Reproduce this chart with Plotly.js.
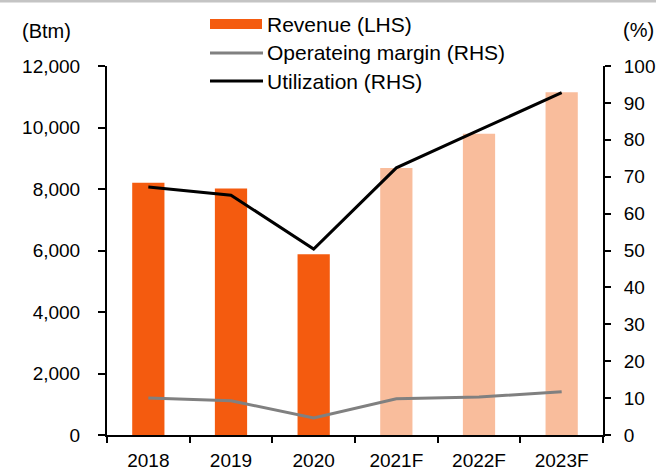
<!DOCTYPE html>
<html><head><meta charset="utf-8">
<script src="https://cdn.plot.ly/plotly-3.0.1.min.js"></script>
<style>body{margin:0;padding:0;background:#fff}#c{width:656px;height:472px}</style>
</head><body><div id="c"></div>
<script>
const categories = ['2018','2019','2020','2021F','2022F','2023F'];
const revenue = [8200, 8020, 5880, 8680, 9800, 11150];
const opMargin = [10.0, 9.3, 4.6, 9.8, 10.3, 11.7];
const utilization = [67.2, 65.0, 50.4, 72.4, 82.6, 92.8];
const barColors = ['#F45B0F','#F45B0F','#F45B0F','#F9BD9C','#F9BD9C','#F9BD9C'];
const leftTicks = [0,2000,4000,6000,8000,10000,12000];
const leftTickText = ['0','2,000','4,000','6,000','8,000','10,000','12,000'];
const rightTicks = [0,10,20,30,40,50,60,70,80,90,100];
const legendNames = ['Revenue (LHS)','Operateing margin (RHS)','Utilization (RHS)'];

const fam = '"Liberation Sans", Arial, sans-serif';
const tickFont = {family:fam, size:19, color:'#000'};
const legFont = {family:fam, size:21, color:'#000'};

const traces = [
  {type:'bar', x:categories, y:revenue, name:legendNames[0], marker:{color:barColors, line:{width:0}}, yaxis:'y'},
  {type:'scatter', mode:'lines', x:categories, y:opMargin, name:legendNames[1], line:{color:'#808080', width:3}, yaxis:'y2'},
  {type:'scatter', mode:'lines', x:categories, y:utilization, name:legendNames[2], line:{color:'#000000', width:3}, yaxis:'y2'}
];

// paper coords helpers (plot area: x 107..603, y 66..435)
const px = v => (v - 107) / 496;
const py = v => (435 - v) / 369;

const layout = {
  width:656, height:472,
  margin:{l:107, r:53, t:66, b:37},
  paper_bgcolor:'#fff', plot_bgcolor:'#fff',
  font:tickFont,
  bargap:0.61,
  showlegend:false,
  xaxis:{type:'category', showline:true, linecolor:'#000', linewidth:2, ticks:'outside', tickson:'boundaries', ticklen:6, tickwidth:2, tickcolor:'#000', showgrid:false, zeroline:false, tickfont:tickFont, ticklabelstandoff:7},
  yaxis:{range:[0,12000], tickvals:leftTicks, ticktext:leftTickText, showline:true, linecolor:'#000', linewidth:2, ticks:'outside', ticklen:7, tickwidth:2, tickcolor:'#000', showgrid:false, zeroline:false, tickfont:tickFont, ticklabelstandoff:14},
  yaxis2:{range:[0,100], tickvals:rightTicks, overlaying:'y', side:'right', showline:true, linecolor:'#000', linewidth:2, ticks:'outside', ticklen:6, tickwidth:2, tickcolor:'#000', showgrid:false, zeroline:false, tickfont:tickFont, ticklabelstandoff:9},
  annotations:[
    {text:'(Btm)', xref:'paper', yref:'paper', x:px(20), y:py(31), xanchor:'left', yanchor:'middle', showarrow:false, font:{family:fam, size:20, color:'#000'}},
    {text:'(%)', xref:'paper', yref:'paper', x:px(621), y:py(30), xanchor:'left', yanchor:'middle', showarrow:false, font:{family:fam, size:20, color:'#000'}},
    {text:legendNames[0], xref:'paper', yref:'paper', x:px(265), y:py(25), xanchor:'left', yanchor:'middle', showarrow:false, font:legFont},
    {text:legendNames[1], xref:'paper', yref:'paper', x:px(265), y:py(53), xanchor:'left', yanchor:'middle', showarrow:false, font:legFont},
    {text:legendNames[2], xref:'paper', yref:'paper', x:px(265), y:py(81), xanchor:'left', yanchor:'middle', showarrow:false, font:legFont}
  ],
  shapes:[
    {type:'rect', xref:'paper', yref:'paper', x0:px(210), x1:px(262), y0:py(29), y1:py(19), fillcolor:'#F45B0F', line:{width:0}},
    {type:'line', xref:'paper', yref:'paper', x0:px(210), x1:px(263), y0:py(53), y1:py(53), line:{color:'#808080', width:3}},
    {type:'line', xref:'paper', yref:'paper', x0:px(210), x1:px(263), y0:py(81), y1:py(81), line:{color:'#000', width:3}},
    {type:'line', xref:'paper', yref:'paper', x0:px(0), x1:px(656), y0:py(1), y1:py(1), line:{color:'#c4c4c4', width:3}}
  ]
};

Plotly.newPlot('c', traces, layout, {displayModeBar:false, staticPlot:true});
</script>
</body></html>
